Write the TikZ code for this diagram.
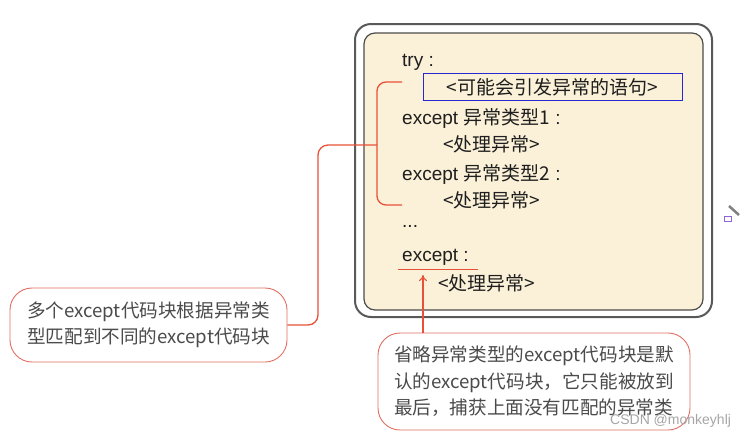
\documentclass[tikz,border=0pt]{standalone}
\usepackage{fontspec}
\setmainfont{Liberation Sans}
\newfontfamily\cjk{Noto Sans CJK SC}
\usetikzlibrary{arrows.meta}
\definecolor{beige}{RGB}{251,241,216}
\definecolor{redline}{RGB}{232,80,56}
\definecolor{salmon}{RGB}{226,112,98}
\definecolor{codeblue}{RGB}{40,40,210}
\definecolor{txt}{RGB}{30,30,30}
\definecolor{ctxt}{RGB}{75,75,75}
\newcommand\zh[1]{{\cjk #1}}
\tikzset{
  codeline/.style={anchor=west, inner sep=0pt, text=txt, font=\fontsize{19}{23}\selectfont},
  callout/.style={draw=salmon, line width=0.9pt, rounded corners=22pt, fill=white, align=left,
    text=ctxt, font=\cjk\fontsize{18.6}{26.5}\selectfont, inner sep=0pt},
  redl/.style={draw=redline, line width=1.3pt}
}
\begin{document}
\begin{tikzpicture}[x=1pt,y=-1pt]
\useasboundingbox (0,0) rectangle (744,437);
\fill[white] (0,0) rectangle (744,437);
% outer and inner frames
\draw[draw=black!65, line width=2pt, rounded corners=16pt, fill=white] (355,24) rectangle (712,317);
\draw[draw=black!70, line width=1.2pt, rounded corners=11pt, fill=beige] (364,33) rectangle (703,310);
% blue box
\node[draw=codeblue, line width=1pt, minimum width=259pt, minimum height=27pt, inner sep=0pt,
  text=txt, font=\cjk\fontsize{19}{23}\selectfont] (stmt) at (552.5,87) {<可能会引发异常的语句>};
% code lines
\node[codeline] (try) at (402,62) {try :};
\node[codeline] (exc1) at (402,118) {except \zh{异常类型1} :};
\node[codeline] (h1) at (443,144) {\zh{<处理异常>}};
\node[codeline] (exc2) at (402,174) {except \zh{异常类型2} :};
\node[codeline] (h2) at (443,200) {\zh{<处理异常>}};
\node[codeline] (dots) at (402,226) {...};
\node[codeline] (exc) at (402,257) {except :};
\node[codeline] (h3) at (438,283) {\zh{<处理异常>}};
% underline
\coordinate (ul1) at (398,269);
\coordinate (ul2) at (478,269);
\draw[redline, line width=1pt] (ul1) -- (ul2);
% callouts
\node[callout, minimum width=277pt, minimum height=74pt] (b1) at (148.5,325)
  {多个except代码块根据异常类\\型匹配到不同的except代码块};
\node[callout, minimum width=312pt, minimum height=97pt] (b2) at (534,381.5)
  {省略异常类型的except代码块是默\\认的except代码块，它只能被放到\\最后，捕获上面没有匹配的异常类};
% bracket and connector
\coordinate (bt) at (402,82);
\coordinate (bb) at (402,205);
\coordinate (bm) at (377,145);
\draw[redl, rounded corners=9pt] (bt) -- (377,82) -- (377,205) -- (bb);
\draw[redl, rounded corners=10pt] (bm) -- (318,145) |- (b1.east);
% arrow
\coordinate (tip) at (423,275);
\draw[redl, line width=1.1pt, -{To[length=6pt,width=8pt]}] (b2.north -| tip) -- (tip);
% watermark
\node[anchor=west, text=black!35, font=\fontsize{14}{16}\selectfont, inner sep=0pt] (wm) at (610,421) {CSDN @monkeyhlj};
% pencil icon
\draw[draw=blue!50!violet!60, line width=0.8pt] (724,216) rectangle (731,221);
\draw[draw=black!50, line width=2.5pt] (729,206) -- (739,215);
\end{tikzpicture}
\end{document}
